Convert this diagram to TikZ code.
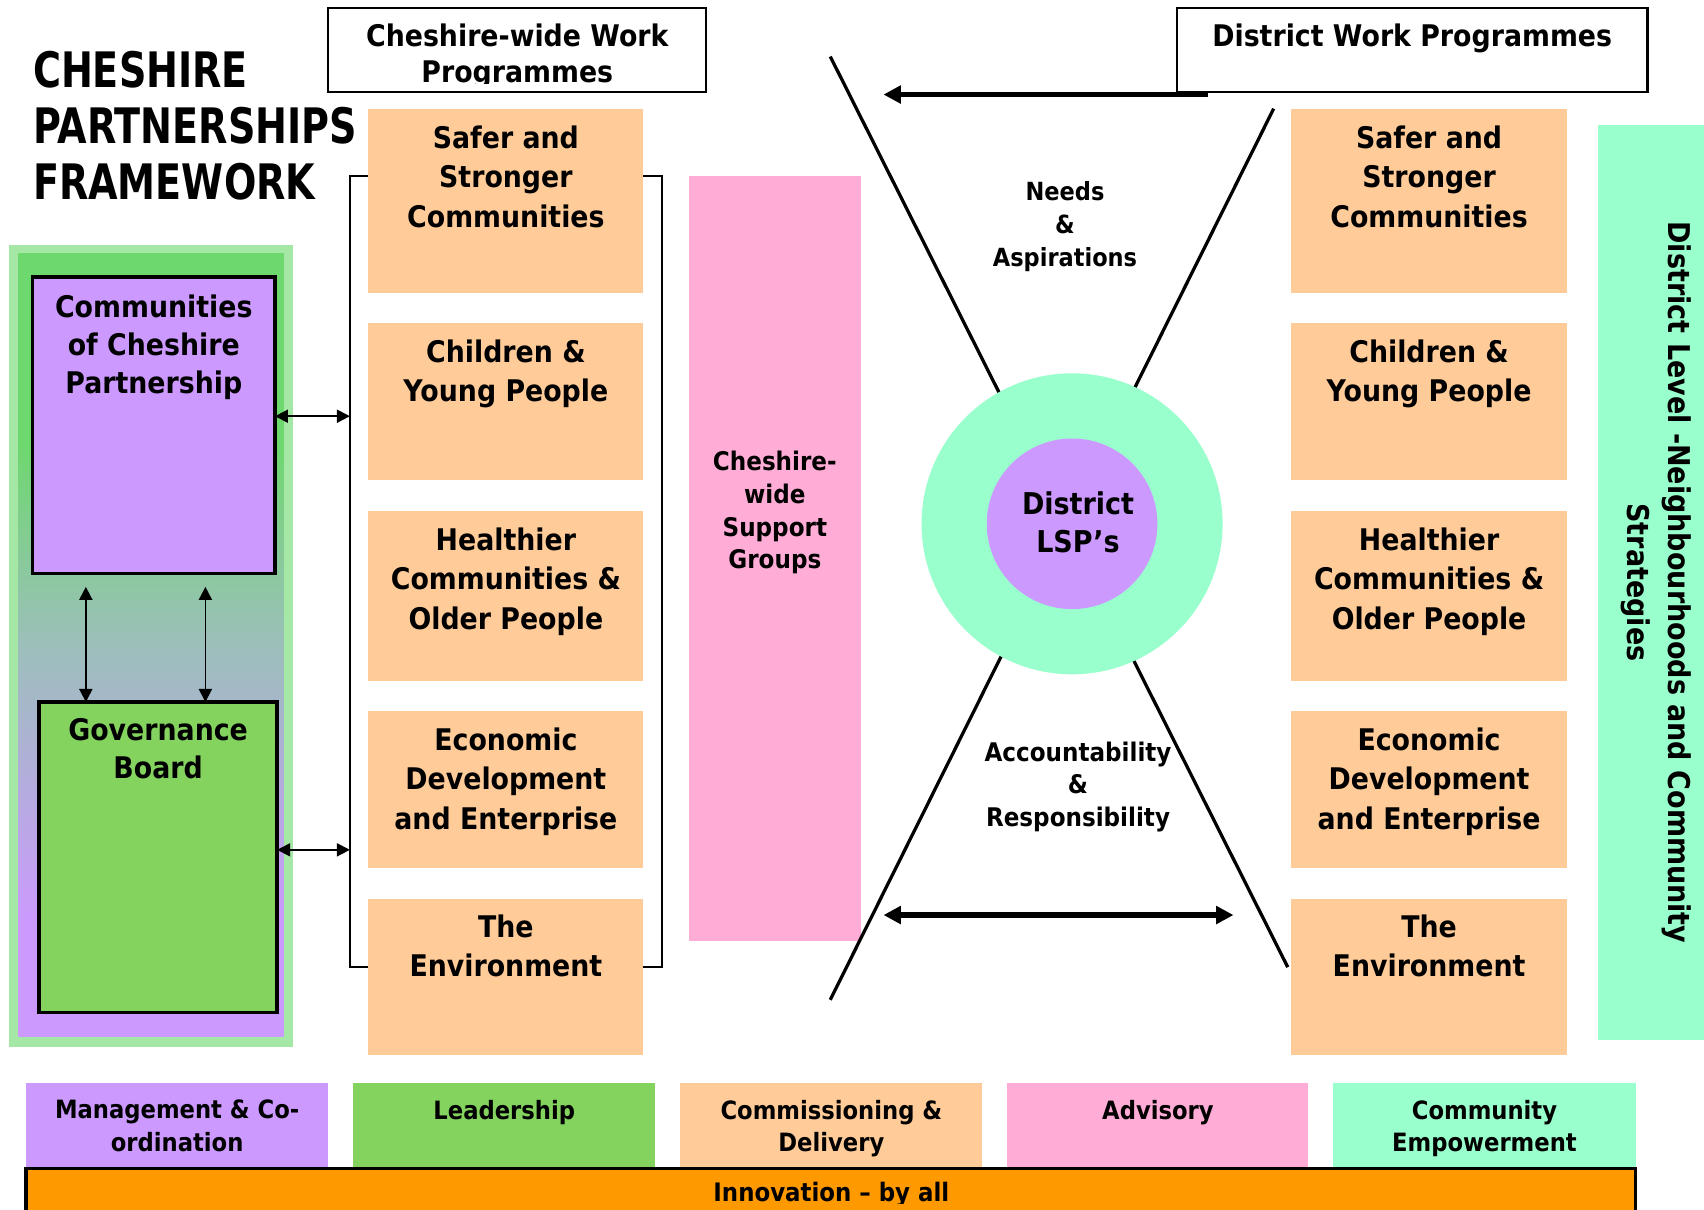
\documentclass[tikz,border=0pt]{standalone}
\usepackage{fontspec}
\setmainfont{DejaVu Sans}[FakeStretch=0.9]
\newfontfamily\titlefont{DejaVu Sans}[FakeStretch=0.78]
\usetikzlibrary{arrows.meta}

\definecolor{peach}{HTML}{FFCC99}
\definecolor{rose}{HTML}{FFADD6}
\definecolor{mint}{HTML}{99FFCC}
\definecolor{lilac}{HTML}{CC99FF}
\definecolor{leaf}{HTML}{85D35F}
\definecolor{grass}{HTML}{6DD86D}
\definecolor{paleleaf}{HTML}{A5E8A5}
\definecolor{amber}{HTML}{FF9900}
\definecolor{slate}{HTML}{9CBFBB}

% green-to-lilac fade behind the partnership boxes (path spans 25bp..75bp)
\pgfdeclareverticalshading{panelshade}{100bp}{color(0bp)=(lilac); color(32bp)=(lilac); color(50bp)=(slate); color(63bp)=(grass); color(100bp)=(grass)}

\begin{document}
\begin{tikzpicture}[x=0.5pt, y=-0.5pt,
  blk/.style={rectangle, anchor=north west, inner sep=0pt, outer sep=0pt},
  work/.style={blk, fill=peach, minimum width=126.5pt},
  hdr/.style={blk, draw=black, line width=1pt, minimum height=39pt},
  legend/.style={blk, minimum width=139pt, minimum height=39pt},
  body/.style={anchor=north, inner sep=0pt, align=center, font=\bfseries\fontsize{13.7}{18.25}\selectfont},
  note/.style={anchor=north, inner sep=0pt, align=center, font=\bfseries\fontsize{11.6}{15}\selectfont},
  thin/.style={line width=0.8pt},
  dbl/.style={thin, {Triangle[length=6pt,width=6pt]}-{Triangle[length=6pt,width=6pt]}},
  heavy/.style={line width=2.5pt, -{Triangle[length=8pt,width=8pt]}},
  heavydbl/.style={line width=2.5pt, {Triangle[length=8pt,width=8pt]}-{Triangle[length=8pt,width=8pt]}},
  cross/.style={line width=1.5pt},
]
\fill[white] (0,0) rectangle (1568,1113);
\useasboundingbox (0,0) rectangle (1568,1113);
\clip (0,0) rectangle (1568,1113);

% ---------------- title
\node[anchor=north west, inner sep=0pt, align=left,
      font=\titlefont\bfseries\fontsize{22.5}{25.75}\selectfont] (title) at (30,47)
      {CHESHIRE\\PARTNERSHIPS\\FRAMEWORK};

% ---------------- partnership panel
\node[blk, fill=paleleaf, minimum width=131pt, minimum height=369pt] (panel) at (8,225) {};
\node[blk, shade, shading=panelshade, minimum width=122pt, minimum height=360.5pt] (panelin) at (17,233) {};
\node[blk, fill=lilac, draw=black, line width=1.5pt, minimum width=111.5pt, minimum height=136.5pt] (ccp) at (30,255) {};
\node[body, font=\bfseries\fontsize{13.7}{17.5}\selectfont] (ccpt) at ([yshift=-8pt]ccp.north)
      {Communities\\of Cheshire\\Partnership};
\node[blk, fill=leaf, draw=black, line width=1.5pt, minimum width=109.5pt, minimum height=143pt] (gov) at (36,646) {};
\node[body, font=\bfseries\fontsize{13.7}{17.5}\selectfont] (govt) at ([yshift=-7.5pt]gov.north)
      {Governance\\Board};

\coordinate (va) at (79,540);
\coordinate (vb) at (189,540);
\draw[dbl] (va) -- (gov.north -| va);
\draw[dbl] (vb) -- (gov.north -| vb);

% ---------------- Cheshire-wide work programmes
\node[hdr, minimum width=174pt] (cwp) at (302,7) {};
\begin{scope}
  \clip ([yshift=4pt]cwp.south west) rectangle (cwp.north east);
  \node[body, font=\bfseries\fontsize{13.7}{16.5}\selectfont] (cwpt) at ([yshift=-7.5pt]cwp.north)
        {Cheshire-wide Work\\Programmes};
\end{scope}

\node[work, minimum height=85pt]   (ls) at (339,100) {};
\node[work, minimum height=72.5pt] (lc) at (339,297) {};
\node[work, minimum height=78.5pt] (lh) at (339,470) {};
\node[work, minimum height=72.5pt] (le) at (339,654) {};
\node[work, minimum height=72pt]   (lv) at (339,827) {};
\node[body] (lst) at ([yshift=-7.5pt]ls.north) {Safer and\\Stronger\\Communities};
\node[body] (lct) at ([yshift=-7.5pt]lc.north) {Children \&\\Young People};
\node[body] (lht) at ([yshift=-7.5pt]lh.north) {Healthier\\Communities \&\\Older People};
\node[body] (let) at ([yshift=-7.5pt]le.north) {Economic\\Development\\and Enterprise};
\node[body] (lvt) at ([yshift=-7pt]lv.north) {The\\Environment};

% brackets gathering the programmes
\coordinate (bt) at (322,162);
\coordinate (bb) at (322,890);
\coordinate (rt) at (609,162);
\coordinate (rb) at (609,890);
\draw[thin] (ls.west |- bt) -- (bt) -- (bb) -- (lv.west |- bb);
\draw[thin] (ls.east |- rt) -- (rt) -- (rb) -- (lv.east |- rb);

\coordinate (ha) at (322,383);
\coordinate (hb) at (322,782);
\draw[dbl] (ccp.east |- ha) -- (ha);
\draw[dbl] (gov.east |- hb) -- (hb);

% ---------------- support groups
\node[blk, fill=rose, minimum width=79pt, minimum height=352pt] (sg) at (634,162) {};
\node[note, font=\bfseries\fontsize{11.8}{15}\selectfont] (sgt) at (713,415)
      {Cheshire-\\wide\\Support\\Groups};

% ---------------- district hub
\coordinate (xa) at (764,52);
\coordinate (xb) at (1185,890);
\coordinate (xc) at (1172,100);
\coordinate (xd) at (764,920);
\draw[cross] (xa) -- (xb);
\draw[cross] (xc) -- (xd);

\node[circle, fill=mint, minimum size=138.5pt, inner sep=0pt] (ring) at (986.5,482) {};
\node[circle, fill=lilac, minimum size=78.5pt, inner sep=0pt] (lsp) at (ring.center) {};
\node[body, font=\bfseries\fontsize{13.8}{17.5}\selectfont] (lspt) at (992,452) {District\\LSP’s};

\node[note, font=\bfseries\fontsize{11.5}{15}\selectfont] (needs) at (980,167)
      {Needs\\\&\\Aspirations};
\node[note, font=\bfseries\fontsize{11.8}{15}\selectfont] (acc) at (992,682)
      {Accountability\\\&\\Responsibility};

% ---------------- district work programmes
\node[hdr, minimum width=216.5pt] (dwp) at (1083,7) {};
\node[body] (dwpt) at ([yshift=-7.5pt]dwp.north) {District Work Programmes};

\coordinate (ta) at (1112,87);
\coordinate (tb) at (813,87);
\draw[heavy] (ta) -- (tb);
\coordinate (ba) at (813,842);
\coordinate (bz) at (1135,842);
\draw[heavydbl] (ba) -- (bz);

\node[work, minimum width=127pt, minimum height=85pt]   (rs) at (1188,100) {};
\node[work, minimum width=127pt, minimum height=72.5pt] (rc) at (1188,297) {};
\node[work, minimum width=127pt, minimum height=78.5pt] (rh) at (1188,470) {};
\node[work, minimum width=127pt, minimum height=72.5pt] (re) at (1188,654) {};
\node[work, minimum width=127pt, minimum height=72pt]   (rv) at (1188,827) {};
\node[body] (rst) at ([yshift=-7.5pt]rs.north) {Safer and\\Stronger\\Communities};
\node[body] (rct) at ([yshift=-7.5pt]rc.north) {Children \&\\Young People};
\node[body] (rht) at ([yshift=-7.5pt]rh.north) {Healthier\\Communities \&\\Older People};
\node[body] (ret) at ([yshift=-7.5pt]re.north) {Economic\\Development\\and Enterprise};
\node[body] (rvt) at ([yshift=-7pt]rv.north) {The\\Environment};

% ---------------- neighbourhood strategies
\node[blk, fill=mint, minimum width=55pt, minimum height=421pt] (dlv) at (1470,115) {};
\node[inner sep=0pt, align=center, rotate=-90, font=\bfseries\fontsize{13.8}{18.5}\selectfont] (dlvt) at (1524,536)
      {District Level -Neighbourhoods and Community\\Strategies};

% ---------------- roles
\node[legend, fill=lilac] (mgmt) at (24,997) {};
\node[legend, fill=leaf]  (lead) at (325,997) {};
\node[legend, fill=peach] (comm) at (626,997) {};
\node[legend, fill=rose, minimum width=138.5pt] (adv) at (927,997) {};
\node[legend, fill=mint]  (emp) at (1227,997) {};
\node[note] (mgmtt) at ([yshift=-7.5pt]mgmt.north) {Management \& Co-\\ordination};
\node[note] (leadt) at ([yshift=-7.5pt]lead.north) {Leadership};
\node[note] (commt) at ([yshift=-7.5pt]comm.north) {Commissioning \&\\Delivery};
\node[note] (advt)  at ([yshift=-7.5pt]adv.north)  {Advisory};
\node[note] (empt)  at ([yshift=-7.5pt]emp.north)  {Community\\Empowerment};

\node[blk, fill=amber, draw=black, line width=1.5pt, minimum width=740.5pt, minimum height=30pt] (innov) at (24,1075) {};
\begin{scope}
  % the banner text is cut just below its baseline
  \clip (innov.north west) rectangle ([yshift=-16pt]innov.north east);
  \node[anchor=base, inner sep=0pt, font=\bfseries\fontsize{11.7}{14}\selectfont] (innovt) at (765,1106)
        {Innovation – by all};
\end{scope}
\end{tikzpicture}
\end{document}
